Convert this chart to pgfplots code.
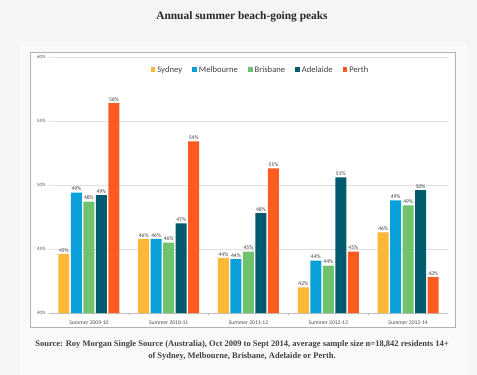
\documentclass[border=0pt]{standalone}
\usepackage{pgfplots}
\pgfplotsset{compat=1.18}
\usepackage{fontspec}
\setmainfont{Carlito}
\newfontfamily\serifbold{Liberation Serif}
\definecolor{pagebg}{HTML}{F5F5F5}
\definecolor{panelbg}{HTML}{F9F9F9}
\definecolor{cSyd}{HTML}{FDB838}
\definecolor{cMel}{HTML}{0AA0DA}
\definecolor{cBri}{HTML}{6EC36C}
\definecolor{cAde}{HTML}{035B6F}
\definecolor{cPer}{HTML}{FD5B1F}
\begin{document}
\begin{tikzpicture}
\fill[pagebg] (0pt,0pt) rectangle (477pt,-375pt);
\fill[panelbg] (20pt,-42pt) rectangle (467pt,-375pt);
\draw[black!30,fill=white,line width=0.8pt] (30pt,-52pt) rectangle (455pt,-327pt);
\node[font=\serifbold\bfseries\fontsize{11.4}{13}\selectfont,text=black!85] at (242pt,-17pt) {Annual summer beach-going peaks};
\node[font=\serifbold\bfseries\fontsize{8.5}{12}\selectfont,text=black!75,align=center] at (242pt,-350pt) {Source: Roy Morgan Single Source (Australia), Oct 2009 to Sept 2014, average sample size n=18,842 residents 14+\\of Sydney, Melbourne, Brisbane, Adelaide or Perth.};
\begin{axis}[
  at={(49pt,-313pt)}, anchor=south west,
  width=399pt, height=256pt, scale only axis,
  ybar=1.5pt, bar width=11pt,
  xmin=-0.5, xmax=4.5, ymin=40, ymax=60,
  xtick={0,1,2,3,4},
  xticklabels={Summer 2009-10,Summer 2010-11,Summer 2011-12,Summer 2012-13,Summer 2013-14},
  minor xtick={0.5,1.5,2.5,3.5},
  x tick label style={font=\fontsize{5.6}{6}\selectfont,text=black!70},
  ytick={40,45,50,55,60},
  yticklabel={\pgfmathprintnumber{\tick}\%},
  /pgf/number format/assume math mode=true,
  y tick label style={font=\fontsize{4.8}{5}\selectfont,text=black!70},
  xtick style={draw=none},
  minor x tick style={draw=black!30},
  minor tick length=2pt,
  ytick style={draw=none},
  axis x line*=bottom,
  axis y line*=left,
  x axis line style={draw=black!25,-},
  y axis line style={draw=none},
  ymajorgrids, grid style={black!12},
  legend style={at={(0.53,0.95)},anchor=center,draw=none,fill=none,legend columns=5,
    font=\fontsize{8.6}{9}\selectfont,text=black!75,
    /tikz/every even column/.append style={column sep=8pt}},
  legend image code/.code={\fill[#1] (0pt,-2.3pt) rectangle (4.8pt,2.5pt);},
  point meta=explicit,
  nodes near coords={\pgfmathprintnumber[fixed,precision=0]{\pgfplotspointmeta}\%},
  nodes near coords style={font=\fontsize{5.6}{6}\selectfont,text=black!75,inner sep=1.5pt},
  every axis plot/.append style={draw=none},
]
\addplot[fill=cSyd] coordinates {(0,44.6)[45] (1,45.8)[46] (2,44.3)[44] (3,42.0)[42] (4,46.3)[46]};
\addplot[fill=cMel] coordinates {(0,49.4)[49] (1,45.8)[46] (2,44.2)[44] (3,44.1)[44] (4,48.8)[49]};
\addplot[fill=cBri] coordinates {(0,48.7)[48] (1,45.5)[46] (2,44.8)[45] (3,43.7)[44] (4,48.4)[49]};
\addplot[fill=cAde] coordinates {(0,49.2)[49] (1,47.0)[47] (2,47.8)[48] (3,50.6)[51] (4,49.6)[50]};
\addplot[fill=cPer] coordinates {(0,56.4)[56] (1,53.4)[54] (2,51.3)[51] (3,44.8)[45] (4,42.8)[43]};
\legend{Sydney,Melbourne,Brisbane,Adelaide,Perth}
\end{axis}
\end{tikzpicture}
\end{document}
